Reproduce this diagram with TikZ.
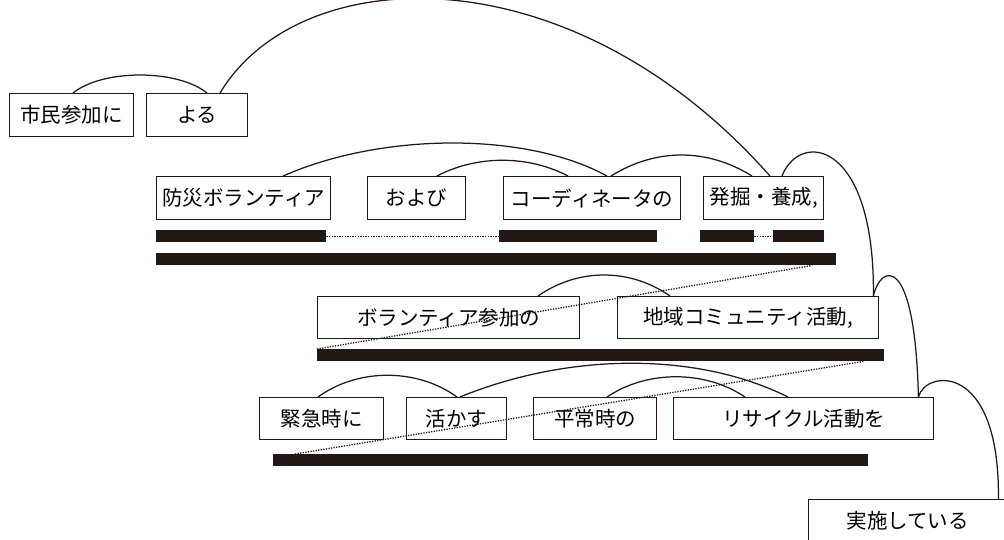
\documentclass[tikz,border=0pt]{standalone}
\usepackage{fontspec}
\setmainfont{Noto Sans CJK JP}
\definecolor{ink}{HTML}{231815}

\begin{document}
\begin{tikzpicture}[x=1pt, y=1pt,
    word/.style={draw=ink, line width=1.4pt, inner sep=0pt, minimum height=43, anchor=north west, font=\fontsize{20.5}{24}\selectfont},
    bar/.style={fill=ink, inner sep=0pt, minimum height=12, anchor=north west},
    link/.style={draw=ink, line width=1.25pt},
    dotline/.style={draw=ink, line width=1.3pt, dash pattern=on 1.3pt off 1.3pt}]

    \useasboundingbox (0,0) rectangle (1004,-539);

    % --- Row 1 ---
    \node[word, minimum width=124] (shimin) at (9,-93) {市民参加に};
    \node[word, minimum width=101] (yoru) at (146,-93) {よる};

    % --- Row 2 ---
    \node[word, minimum width=174] (bousai) at (156,-176) {防災ボランティア};
    \node[word, minimum width=98] (oyobi) at (367,-176) {および};
    \node[word, minimum width=177] (coord) at (503,-176) {コーディネータの};
    \node[word, minimum width=120] (hakkutsu) at (703,-176) {発掘・養成,};

    % bars under row 2
    \node[bar, minimum width=170] (r1a) at (156,-230) {};
    \node[bar, minimum width=158] (r1b) at (499,-230) {};
    \node[bar, minimum width=54] (r1c) at (700,-230) {};
    \node[bar, minimum width=51] (r1d) at (773,-230) {};
    \node[bar, minimum width=680] (r2) at (156,-253) {};
    \draw[dotline] (r1a.east) -- (r1b.west);
    \draw[dotline] (r1c.east) -- (r1d.west);

    % --- Row 3 ---
    \node[word, minimum width=262, minimum height=42] (vsanka) at (317,-296) {ボランティア参加の};
    \node[word, minimum width=261, minimum height=42] (chiiki) at (617,-296) {地域コミュニティ活動,};
    \node[bar, minimum width=567] (r3) at (317,-349) {};
    \draw[dotline] (r3.north west) -- ([xshift=-24]r2.south east);

    % --- Row 4 ---
    \node[word, minimum width=124, minimum height=42] (kinkyu) at (259,-397) {緊急時に};
    \node[word, minimum width=100, minimum height=42] (ikasu) at (406,-397) {活かす};
    \node[word, minimum width=123, minimum height=42] (heijou) at (533,-397) {平常時の};
    \node[word, minimum width=260, minimum height=42] (recycle) at (673,-397) {リサイクル活動を};
    \node[bar, minimum width=595] (r4) at (273,-454) {};
    \draw[dotline] ([xshift=22]r4.north west) -- ([xshift=-21]r3.south east);

    % --- Predicate ---
    \node[word, minimum width=198] (jisshi) at (808,-499) {実施している};

    % --- Dependency arcs ---
    \draw[link] ([xshift=64]shimin.north west) .. controls +(30,24) and +(-30,24) .. ([xshift=61]yoru.north west);
    \draw[link] ([xshift=74]yoru.north west) .. controls (300,40) and (570,50) .. ([xshift=67]hakkutsu.north west);
    \draw[link] ([xshift=127]bousai.north west) .. controls +(100,44) and +(-80,44) .. ([xshift=104]coord.north west);
    \draw[link] ([xshift=70]oyobi.north west) .. controls +(40,21) and +(-40,21) .. ([xshift=65]coord.north west);
    \draw[link] ([xshift=108]coord.north west) .. controls +(45,28) and +(-45,28) .. ([xshift=49]hakkutsu.north west);
    \draw[link] ([xshift=79]hakkutsu.north west) .. controls (800,-130) and (875,-140) .. ([xshift=-6]chiiki.north east);
    \draw[link] ([xshift=-6]chiiki.north east) .. controls (880,-265) and (915,-250) .. ([xshift=-16]recycle.north east);
    \draw[link] ([xshift=-16]recycle.north east) .. controls (925,-370) and (1000,-360) .. ([xshift=-9]jisshi.north east);
    \draw[link] ([xshift=221]vsanka.north west) .. controls +(40,28) and +(-40,28) .. ([xshift=53]chiiki.north west);
    \draw[link] ([xshift=59]kinkyu.north west) .. controls +(40,29) and +(-40,29) .. ([xshift=51]ikasu.north west);
    \draw[link] ([xshift=54]ikasu.north west) .. controls +(110,45) and +(-90,45) .. ([xshift=115]recycle.north west);
    \draw[link] ([xshift=74]heijou.north west) .. controls +(40,27) and +(-40,27) .. ([xshift=72]recycle.north west);

\end{tikzpicture}
\end{document}
